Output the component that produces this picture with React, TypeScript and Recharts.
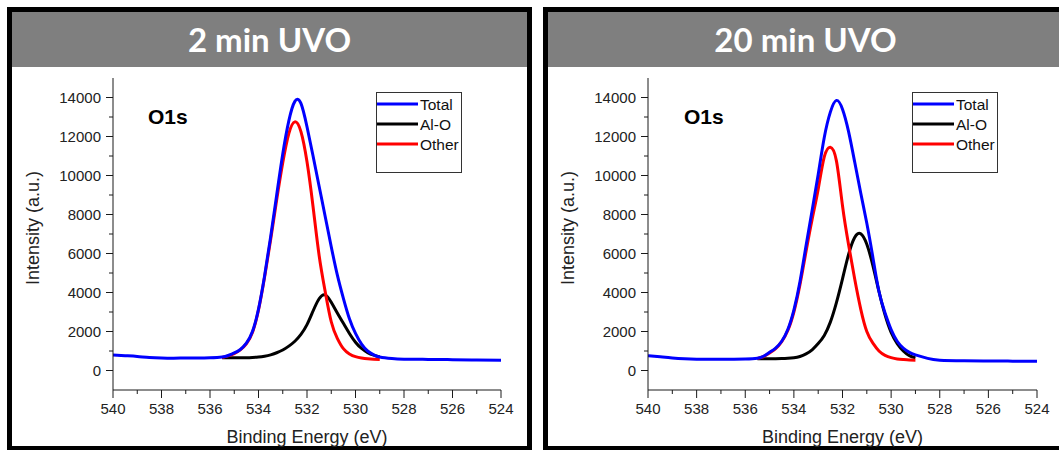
import React from 'react';
import { LineChart, Line, XAxis, YAxis } from 'recharts';

// binding energy grid (eV), shared by both panels
const ENERGY = [
  540, 539.5, 539, 538.5, 538, 537.5, 537, 536.5, 536,
  535.5, 535.25, 535, 534.75, 534.5, 534.25, 534, 533.75, 533.5, 533.25,
  533, 532.75, 532.5, 532.25, 532, 531.75, 531.5, 531.25, 531, 530.75,
  530.5, 530.25, 530, 529.75, 529.5, 529.25, 529,
  528.5, 528, 527, 526, 525, 524,
];

// 2 min UVO
const TOTAL_2MIN = [
  800, 760, 720, 670, 640, 630, 640, 640, 650,
  690, 770, 900, 1080, 1400, 2000, 3150, 4850, 6850, 9000,
  11100, 12800, 13800, 13700, 12500, 11000, 9450, 7900, 6350, 4900,
  3700, 2650, 1900, 1350, 1000, 800, 690,
  610, 580, 570, 555, 540, 530,
];
const ALO_2MIN = [
  null, null, null, null, null, null, null, null, null,
  650, 650, 650, 652, 658, 670, 690, 730, 800, 910,
  1050, 1250, 1500, 1850, 2350, 3050, 3680, 3880, 3500, 2950,
  2420, 1900, 1450, 1130, 920, 790, 700,
  null, null, null, null, null, null,
];
const OTHER_2MIN = [
  null, null, null, null, null, null, null, null, null,
  670, 750, 870, 1060, 1370, 1950, 3100, 4780, 6700, 8750,
  10650, 12150, 12750, 12250, 10700, 8400, 5900, 4050, 2500, 1650,
  1120, 850, 710, 640, 600, 580, 570,
  null, null, null, null, null, null,
];

// 20 min UVO
const TOTAL_20MIN = [
  760, 700, 640, 600, 580, 575, 575, 580, 590,
  630, 730, 930, 1150, 1500, 2100, 3100, 4550, 6400, 8200,
  10050, 11950, 13250, 13850, 13400, 12250, 10700, 9100, 7550, 5800,
  4050, 2950, 2100, 1500, 1150, 930, 800,
  620, 530, 500, 490, 480, 470,
];
const ALO_20MIN = [
  null, null, null, null, null, null, null, null, null,
  600, 600, 600, 603, 610, 625, 655, 720, 850, 1060,
  1380, 1800, 2480, 3480, 4700, 5950, 6820, 7010, 6470, 5380,
  4050, 2850, 1950, 1380, 1000, 760, 650,
  null, null, null, null, null, null,
];
const OTHER_20MIN = [
  null, null, null, null, null, null, null, null, null,
  620, 710, 900, 1120, 1480, 2050, 3000, 4400, 6100, 7750,
  9300, 10950, 11450, 10750, 8450, 6450, 4700, 3150, 2000, 1400,
  1000, 780, 660, 590, 560, 540, 530,
  null, null, null, null, null, null,
];

const X_TICKS = [540, 539, 538, 537, 536, 535, 534, 533, 532, 531, 530, 529, 528, 527, 526, 525, 524];
const X_LABELED = [540, 538, 536, 534, 532, 530, 528, 526, 524];
const Y_TICKS = [0, 1000, 2000, 3000, 4000, 5000, 6000, 7000, 8000, 9000, 10000, 11000, 12000, 13000, 14000];
const Y_LABELED = [0, 2000, 4000, 6000, 8000, 10000, 12000, 14000];

const SERIES = [
  { key: 'total', name: 'Total', color: '#0000ff' },
  { key: 'alo', name: 'Al-O', color: '#000000' },
  { key: 'other', name: 'Other', color: '#ff0000' },
];
// drawing order: blue on top
const DRAW_ORDER = ['alo', 'other', 'total'];

const AXIS = '#1a1a1a';
const ARIAL = '"Liberation Sans", Arial, sans-serif';

function BottomTick({ x, y, payload }: any) {
  const major = X_LABELED.includes(payload.value);
  return (
    <g>
      <line x1={x} y1={y} x2={x} y2={y + (major ? 8 : 4)} stroke={AXIS} />
      {major && (
        <text x={x} y={y + 24} textAnchor="middle" fontFamily={ARIAL} fontSize={15} fill="#222">
          {payload.value}
        </text>
      )}
    </g>
  );
}

function TopTick({ x, y, payload }: any) {
  const major = X_LABELED.includes(payload.value);
  return <line x1={x} y1={y} x2={x} y2={y + (major ? 7 : 4)} stroke={AXIS} />;
}

function LeftTick({ x, y, payload }: any) {
  const major = Y_LABELED.includes(payload.value);
  return (
    <g>
      <line x1={x - (major ? 7 : 4)} y1={y} x2={x} y2={y} stroke={AXIS} />
      {major && (
        <text x={x - 12} y={y + 5.5} textAnchor="end" fontFamily={ARIAL} fontSize={15} fill="#222">
          {payload.value}
        </text>
      )}
    </g>
  );
}

function RightTick({ x, y, payload }: any) {
  const major = Y_LABELED.includes(payload.value);
  return <line x1={x - (major ? 7 : 4)} y1={y} x2={x} y2={y} stroke={AXIS} />;
}

function Legend() {
  return (
    <div
      style={{
        position: 'absolute',
        left: 364,
        top: 80,
        width: 86,
        height: 81,
        border: '1px solid #333',
        background: '#fff',
        boxSizing: 'border-box',
      }}
    >
      <svg width={86} height={81} style={{ position: 'absolute', left: 0, top: 0 }}>
        {SERIES.map((s, i) => (
          <g key={s.key}>
            <line x1={0} x2={41} y1={11 + i * 20} y2={11 + i * 20} stroke={s.color} strokeWidth={3} />
            <text x={43} y={16.5 + i * 20} fontFamily={ARIAL} fontSize={15.5} fill="#111">
              {s.name}
            </text>
          </g>
        ))}
      </svg>
    </div>
  );
}

interface PanelProps {
  title: string;
  left: number;
  total: (number | null)[];
  alo: (number | null)[];
  other: (number | null)[];
  plotLeft: number;
}

function Panel({ title, left, total, alo, other, plotLeft }: PanelProps) {
  const rows = ENERGY.map((e, i) => ({ energy: e, total: total[i], alo: alo[i], other: other[i] }));
  const colors: Record<string, string> = { total: '#0000ff', alo: '#000000', other: '#ff0000' };

  return (
    <div
      style={{
        position: 'absolute',
        left,
        top: 7,
        width: 525,
        height: 444,
        border: '5px solid #000',
        boxSizing: 'border-box',
        background: '#fff',
      }}
    >
      <div
        style={{
          height: 55,
          background: '#7f7f7f',
          color: '#fff',
          fontFamily: 'Lato, "Open Sans", sans-serif',
          fontWeight: 700,
          fontSize: 33,
          lineHeight: '55px',
          textAlign: 'center',
        }}
      >
        {title}
      </div>
      <div style={{ position: 'absolute', left: 0, top: 55 }}>
        <LineChart
          width={515}
          height={380}
          data={rows}
          margin={{ top: 11, right: 26, bottom: 0, left: plotLeft - 100 }}
        >
          <XAxis
            dataKey="energy"
            type="number"
            domain={[524, 540]}
            reversed
            allowDataOverflow
            ticks={X_TICKS}
            interval={0}
            height={57}
            tickSize={0}
            tickMargin={0}
            tickLine={false}
            axisLine={{ stroke: AXIS }}
            tick={<BottomTick />}
            label={({ viewBox }: any) => (
              <text
                x={viewBox.x + viewBox.width / 2}
                y={viewBox.y + 53}
                textAnchor="middle"
                fontFamily={ARIAL}
                fontSize={18}
                fill="#222"
              >
                Binding Energy (eV)
              </text>
            )}
          />
          <XAxis
            xAxisId="top"
            orientation="top"
            dataKey="energy"
            type="number"
            domain={[524, 540]}
            reversed
            allowDataOverflow
            ticks={X_TICKS}
            interval={0}
            height={0}
            tickSize={0}
            tickMargin={0}
            tickLine={false}
            axisLine={{ stroke: AXIS }}
            tick={<TopTick />}
          />
          <YAxis
            type="number"
            domain={[-1000, 15000]}
            allowDataOverflow
            ticks={Y_TICKS}
            interval={0}
            width={100}
            tickSize={0}
            tickMargin={0}
            tickLine={false}
            axisLine={{ stroke: AXIS }}
            tick={<LeftTick />}
            label={({ viewBox }: any) => {
              const cx = viewBox.x + 20;
              const cy = viewBox.y + viewBox.height / 2 - 6;
              return (
                <text
                  x={cx}
                  y={cy}
                  transform={`rotate(-90 ${cx} ${cy})`}
                  textAnchor="middle"
                  dominantBaseline="central"
                  fontFamily={ARIAL}
                  fontSize={18}
                  fill="#222"
                >
                  Intensity (a.u.)
                </text>
              );
            }}
          />
          <YAxis
            yAxisId="right"
            orientation="right"
            type="number"
            domain={[-1000, 15000]}
            allowDataOverflow
            ticks={Y_TICKS}
            interval={0}
            width={0}
            tickSize={0}
            tickMargin={0}
            tickLine={false}
            axisLine={{ stroke: AXIS }}
            tick={<RightTick />}
          />
          {DRAW_ORDER.map((k) => (
            <Line
              key={k}
              type="natural"
              dataKey={k}
              stroke={colors[k]}
              strokeWidth={3}
              dot={false}
              activeDot={false}
              isAnimationActive={false}
              connectNulls={false}
            />
          ))}
        </LineChart>
      </div>
      <div
        style={{
          position: 'absolute',
          left: 136,
          top: 94,
          fontFamily: ARIAL,
          fontWeight: 700,
          fontSize: 21,
          lineHeight: 1,
          color: '#000',
        }}
      >
        O1s
      </div>
      <Legend />
    </div>
  );
}

export default function App() {
  return (
    <div
      style={{
        position: 'absolute',
        left: 0,
        top: 0,
        width: 1059,
        height: 450,
        overflow: 'hidden',
        background: '#fff',
      }}
    >
      <Panel title="2 min UVO" left={7} total={TOTAL_2MIN} alo={ALO_2MIN} other={OTHER_2MIN} plotLeft={101} />
      <Panel title="20 min UVO" left={543} total={TOTAL_20MIN} alo={ALO_20MIN} other={OTHER_20MIN} plotLeft={100} />
    </div>
  );
}
